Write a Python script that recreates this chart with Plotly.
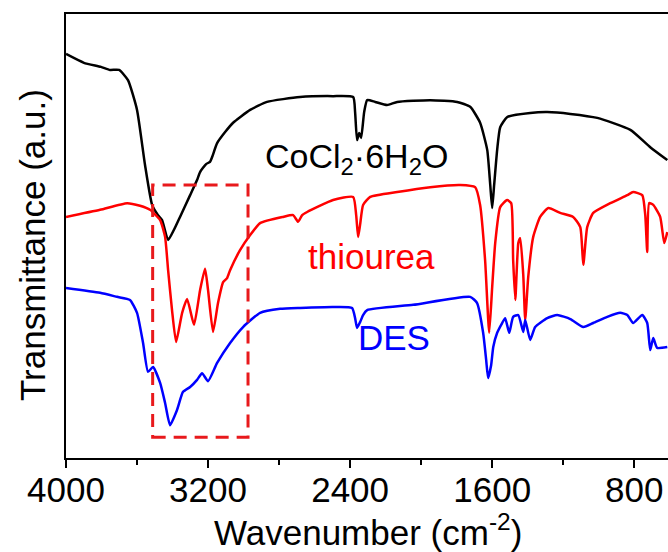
import plotly.graph_objects as go

# ---- data (wavenumber cm^-1, transmittance a.u.) ----
coc_wn = [4000, 3899, 3803, 3752, 3701, 3651, 3600, 3555, 3515, 3482, 3459, 3425, 3392, 3358, 3301,
          3262, 3245, 3211, 3189, 3177, 3149, 3104, 3059, 2963, 2868, 2682, 2496, 2383, 2372, 2361,
          2349, 2338, 2321, 2304, 2259, 2192, 2135, 1949, 1797, 1724, 1668, 1628, 1611, 1600, 1589,
          1572, 1555, 1515, 1386, 1290, 1160, 1008, 822, 710, 614]
coc_t = [91.0, 89.0, 88.1, 87.4, 87.4, 85.1, 78.4, 66.0, 57.0, 54.7, 53.6, 49.1, 51.4, 54.3, 59.2,
         62.6, 64.4, 66.2, 66.7, 67.8, 70.9, 73.4, 75.5, 78.4, 80.2, 81.3, 81.5, 81.3, 77.9, 71.6,
         73.2, 72.1, 77.9, 80.6, 80.2, 79.5, 80.2, 80.6, 80.2, 79.1, 75.5, 69.4, 61.5, 56.3, 61.5,
         69.4, 74.5, 76.8, 77.7, 77.9, 77.5, 76.6, 73.9, 70.0, 67.1]

thio_wn = [4000, 3808, 3656, 3583, 3527, 3470, 3442, 3425, 3403, 3380, 3346, 3318, 3279, 3245, 3217,
           3200, 3172, 3144, 3115, 3093, 3076, 3020, 2963, 2907, 2777, 2721, 2693, 2670, 2642, 2496,
           2383, 2366, 2355, 2344, 2327, 2287, 2135, 1949, 1780, 1696, 1668, 1640, 1617, 1600, 1583,
           1555, 1516, 1493, 1482, 1470, 1453, 1442, 1425, 1414, 1397, 1369, 1330, 1284, 1217, 1144,
           1104, 1087, 1065, 1031, 935, 839, 806, 755, 738, 727, 716, 693, 654, 631, 614]
thio_t = [54.3, 55.9, 57.4, 56.8, 55.9, 53.6, 49.8, 42.3, 33.3, 26.1, 32.7, 35.8, 30.0, 37.8, 42.6,
          37.8, 28.4, 34.9, 39.6, 40.5, 42.3, 46.8, 50.2, 52.9, 54.3, 54.7, 53.2, 54.7, 55.4, 58.1,
          58.8, 54.7, 49.8, 52.5, 57.0, 58.8, 59.9, 61.0, 61.5, 61.0, 57.0, 44.6, 28.2, 38.5, 48.4,
          56.5, 58.1, 57.4, 44.6, 35.6, 48.4, 49.5, 41.2, 31.1, 40.8, 49.8, 54.3, 56.3, 55.2, 54.3,
          52.0, 43.5, 52.0, 55.2, 57.4, 59.2, 59.9, 59.2, 54.7, 46.4, 57.4, 57.0, 54.3, 48.4, 50.9]

des_wn = [4000, 3808, 3713, 3640, 3600, 3566, 3538, 3510, 3470, 3442, 3414, 3375, 3341, 3301, 3262,
          3234, 3200, 3149, 3076, 3003, 2907, 2794, 2682, 2496, 2389, 2372, 2361, 2344, 2327, 2304,
          2045, 1724, 1685, 1651, 1634, 1623, 1606, 1594, 1572, 1544, 1527, 1504, 1482, 1453, 1425,
          1414, 1386, 1358, 1290, 1234, 1160, 1087, 1031, 952, 879, 839, 806, 755, 727, 710, 693,
          671, 614]
des_t = [38.3, 37.2, 36.3, 35.6, 32.7, 25.9, 19.4, 20.5, 16.9, 12.4, 7.4, 10.8, 14.9, 16.0, 17.6,
         19.1, 17.3, 21.4, 25.9, 29.5, 32.7, 33.6, 33.8, 34.0, 33.8, 31.5, 29.3, 30.6, 32.2, 33.3,
         34.5, 36.3, 34.9, 28.2, 22.1, 18.0, 20.9, 25.0, 28.2, 30.4, 31.5, 28.2, 31.8, 32.2, 28.4,
         31.1, 26.6, 29.5, 31.5, 32.2, 31.3, 29.5, 30.4, 31.8, 32.7, 32.2, 30.4, 32.2, 30.4, 24.3, 27.0,
         24.8, 25.0]

box_wn = [3512, 2975]
box_t = [4.7, 61.5]

x_ticks = [4000, 3200, 2400, 1600, 800]
x_minor = [3600, 2800, 2000, 1200]

FONT = "Arial, Liberation Sans, sans-serif"

fig = go.Figure()
fig.add_trace(go.Scatter(x=coc_wn, y=coc_t, mode="lines",
                         line=dict(color="#000000", width=2.5, shape="spline", smoothing=0.5)))
fig.add_trace(go.Scatter(x=thio_wn, y=thio_t, mode="lines",
                         line=dict(color="#ff0000", width=2.5, shape="spline", smoothing=0.5)))
fig.add_trace(go.Scatter(x=des_wn, y=des_t, mode="lines",
                         line=dict(color="#0000ff", width=2.5, shape="spline", smoothing=0.5)))

fig.add_shape(type="rect", xref="x", yref="y", x0=box_wn[0], x1=box_wn[1], y0=box_t[0], y1=box_t[1],
              line=dict(color="#e8191c", width=3, dash="13px,8px"))

fig.add_annotation(x=(263 - 66) / 602, y=(458 - 158) / 444, xref="paper", yref="paper",
                   xanchor="left", yanchor="middle",
                   text="CoCl<sub>2</sub>·6H<sub>2</sub>O", showarrow=False,
                   font=dict(family=FONT, size=34, color="#000000"))
fig.add_annotation(x=(371 - 66) / 602, y=(458 - 256) / 444, xref="paper", yref="paper",
                   xanchor="center", yanchor="middle",
                   text="thiourea", showarrow=False, font=dict(family=FONT, size=35, color="#ff0000"))
fig.add_annotation(x=(394 - 66) / 602, y=(458 - 337) / 444, xref="paper", yref="paper",
                   xanchor="center", yanchor="middle",
                   text="DES", showarrow=False, font=dict(family=FONT, size=35, color="#0000ff"))

fig.add_annotation(x=(368 - 66) / 602, y=(458 - 530) / 444, xref="paper", yref="paper",
                   xanchor="center", yanchor="middle", text="Wavenumber (cm<sup>-2</sup>)",
                   showarrow=False, font=dict(family=FONT, size=35, color="#000000"))
fig.add_annotation(x=(32 - 66) / 602, y=(458 - 245) / 444, xref="paper", yref="paper",
                   xanchor="center", yanchor="middle", text="Transmittance (a.u.)", textangle=-90,
                   showarrow=False, font=dict(family=FONT, size=35, color="#000000"))

fig.update_layout(
    width=668, height=552,
    margin=dict(l=66, r=0, t=14, b=94, autoexpand=False),
    paper_bgcolor="white", plot_bgcolor="white",
    showlegend=False,
    font=dict(family=FONT, size=35, color="#000000"),
    xaxis=dict(range=[4000, 610], tickvals=x_ticks, ticktext=[str(v) for v in x_ticks],
               ticks="outside", ticklen=8, tickwidth=2, tickcolor="black",
               ticklabelstandoff=-8,
               showline=True, linewidth=2, linecolor="black", mirror=True,
               showgrid=False, zeroline=False, automargin=False,
               minor=dict(tickvals=x_minor, ticks="outside", ticklen=5, tickwidth=2, tickcolor="black"),
               tickfont=dict(family=FONT, size=35, color="black")),
    yaxis=dict(range=[0, 100], showticklabels=False, ticks="", showline=True, linewidth=2,
               linecolor="black", showgrid=False, zeroline=False, automargin=False),
)

fig.write_html("out.html", config={"displayModeBar": False},
               post_script="document.body.style.margin='0';document.body.style.overflow='hidden';")
